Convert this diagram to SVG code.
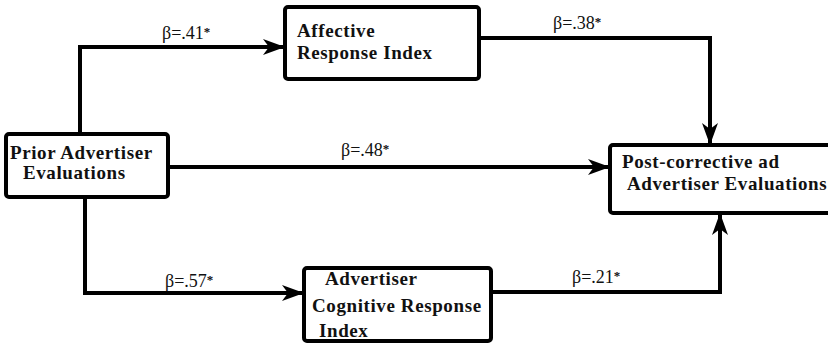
<svg xmlns="http://www.w3.org/2000/svg" width="828" height="343" viewBox="0 0 828 343">
<style>
.box{fill:#fff;stroke:#000;stroke-width:4}
.node{font-family:'Liberation Serif','DejaVu Serif',serif;font-size:19px;font-weight:bold;letter-spacing:0.6px;fill:#111}
.lbl{font-family:'Liberation Serif','DejaVu Serif',serif;font-size:18px;fill:#111}
.ast{font-size:13px;font-weight:bold}
.conn{fill:none;stroke:#000;stroke-width:4}
</style>
<defs>
<marker id="arr" viewBox="0 0 22 16" refX="21" refY="8" markerWidth="22" markerHeight="16" markerUnits="userSpaceOnUse" orient="auto">
<path d="M0,0 L22,8 L0,16 L6,8 z" fill="#000"/>
</marker>
</defs>
<rect width="828" height="343" fill="#fff"/>
<g id="connectors">
<path class="conn" d="M80,134 V47 H284" marker-end="url(#arr)"/>
<path class="conn" d="M168,167 H609" marker-end="url(#arr)"/>
<path class="conn" d="M85,197 V293 H303" marker-end="url(#arr)"/>
<path class="conn" d="M479,38 H710 V144" marker-end="url(#arr)"/>
<path class="conn" d="M491,292 H720 V214" marker-end="url(#arr)"/>
</g>
<g id="labels">
<text class="lbl" x="162" y="39">β=.41<tspan class="ast" dy="-3">*</tspan></text>
<text class="lbl" x="553" y="29">β=.38<tspan class="ast" dy="-3">*</tspan></text>
<text class="lbl" x="341" y="156">β=.48<tspan class="ast" dy="-3">*</tspan></text>
<text class="lbl" x="165" y="287">β=.57<tspan class="ast" dy="-3">*</tspan></text>
<text class="lbl" x="572" y="283">β=.21<tspan class="ast" dy="-3">*</tspan></text>
</g>
<g id="prior">
<rect class="box" x="6" y="134" width="162" height="63" rx="3"/>
<text class="node" x="10" y="159">Prior Advertiser</text>
<text class="node" x="23" y="179">Evaluations</text>
</g>
<g id="affective">
<rect class="box" x="285" y="7" width="194" height="72" rx="3"/>
<text class="node" x="297" y="37">Affective</text>
<text class="node" x="297" y="59">Response Index</text>
</g>
<g id="post">
<rect class="box" x="610" y="145" width="240" height="68" rx="3"/>
<text class="node" x="622" y="168">Post-corrective ad</text>
<text class="node" x="627" y="190">Advertiser Evaluations</text>
</g>
<g id="cognitive">
<rect class="box" x="304" y="268" width="187" height="73" rx="3"/>
<text class="node" x="325" y="285">Advertiser</text>
<text class="node" x="312" y="312">Cognitive Response</text>
<text class="node" x="319" y="337">Index</text>
</g>
</svg>
